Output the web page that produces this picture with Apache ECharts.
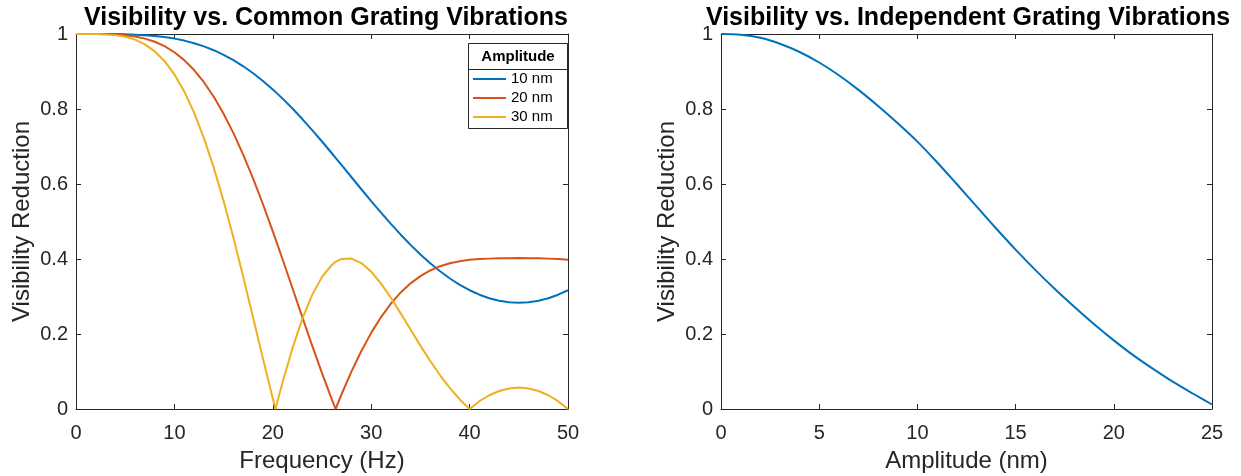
<!DOCTYPE html>
<html><head><meta charset="utf-8">
<script src="https://cdn.jsdelivr.net/npm/echarts@6/dist/echarts.min.js"></script>
<style>html,body{margin:0;padding:0;background:#fff}#c{width:1241px;height:476px}</style>
</head><body><div id="c"></div><script>
// ---- Left chart: visibility vs frequency for three common-vibration amplitudes ----
const freqHz = [0,1,2,3,4,5,6,7,8,9,10,11,12,13,14,15,16,17,18,19,20,20.27,21,22,23,24,25,26,26.38,27,28,29,30,31,32,33,34,35,36,37,38,39,40,41,42,43,44,45,46,47,48,49,50];
const vis10nm = [1,1,1,0.9999,0.9997,0.9992,0.9983,0.9969,0.9948,0.9918,0.9877,0.9824,0.9755,0.9670,0.9568,0.9445,0.9303,0.9139,0.8954,0.8748,0.8522,0.8457,0.8276,0.8012,0.7732,0.7438,0.7133,0.6820,0.6699,0.6501,0.6180,0.5860,0.5544,0.5235,0.4935,0.4648,0.4376,0.4122,0.3887,0.3672,0.3480,0.3312,0.3167,0.3048,0.2955,0.2888,0.2848,0.2834,0.2848,0.2888,0.2955,0.3048,0.3167];
const vis20nm = [1,1,0.9999,0.9996,0.9986,0.9967,0.9933,0.9877,0.9793,0.9675,0.9513,0.9304,0.9039,0.8714,0.8326,0.7873,0.7356,0.6778,0.6144,0.5460,0.4737,0.4536,0.3986,0.3219,0.2451,0.1692,0.0957,0.0257,0,0.0400,0.1004,0.1547,0.2030,0.2451,0.2810,0.3109,0.3351,0.3544,0.3694,0.3808,0.3886,0.3941,0.3977,0.3999,0.4010,0.4018,0.4022,0.4024,0.4022,0.4018,0.4010,0.3999,0.3977];
const vis30nm = [1,1,0.9998,0.9990,0.9970,0.9926,0.9849,0.9724,0.9538,0.9275,0.8922,0.8468,0.7903,0.7225,0.6436,0.5544,0.4564,0.3517,0.2433,0.1343,0.0281,0,0.0718,0.1622,0.2405,0.3043,0.3523,0.3841,0.3923,0.4001,0.4012,0.3892,0.3663,0.3345,0.2966,0.2550,0.2120,0.1690,0.1279,0.0899,0.0555,0.0255,0,0.0208,0.0367,0.0481,0.0549,0.0571,0.0549,0.0481,0.0367,0.0208,0];
const seriesNames = ['10 nm','20 nm','30 nm'];

// ---- Right chart: visibility vs amplitude (independent vibrations) ----
const ampNm = [0,1,2,3,4,5,6,7,8,9,10,11,12,13,14,15,16,17,18,19,20,21,22,23,24,25];
const visIndependent = [1.000,0.998,0.990,0.974,0.952,0.924,0.890,0.851,0.808,0.762,0.713,0.658,0.600,0.541,0.482,0.425,0.371,0.320,0.272,0.226,0.183,0.143,0.107,0.073,0.042,0.012];

// ---- Text ----
const titleLeft = 'Visibility vs. Common Grating Vibrations';
const titleRight = 'Visibility vs. Independent Grating Vibrations';
const xNameLeft = 'Frequency (Hz)';
const xNameRight = 'Amplitude (nm)';
const yName = 'Visibility Reduction';
const legendTitle = 'Amplitude';

const colors = ['#0072BD','#D95319','#EDB120'];
const axisColor = '#262626';
const font = '"Liberation Sans", Arial, Helvetica, sans-serif';

function pairs(xs, ys){ return xs.map((x,i)=>[x,ys[i]]); }

function xAxisDef(grid, max, interval, name, pos){
  const main = pos === 'bottom';
  return {
    type:'value', gridIndex:grid, position:pos, min:0, max:max, interval:interval,
    name: main ? name : '', nameLocation:'middle', nameGap:40,
    nameTextStyle:{fontSize:24,color:axisColor,fontFamily:font},
    axisLine:{show:true,onZero:false,lineStyle:{color:axisColor,width:1}},
    axisTick:{show:true,inside:true,length:5,lineStyle:{color:axisColor}},
    axisLabel:{show:main,fontSize:20,color:axisColor,fontFamily:font,margin:14},
    splitLine:{show:false}
  };
}
function yAxisDef(grid, name, pos){
  const main = pos === 'left';
  return {
    type:'value', gridIndex:grid, position:pos, min:0, max:1, interval:0.2,
    name: main ? name : '', nameLocation:'middle', nameGap:42,
    nameTextStyle:{fontSize:24,color:axisColor,fontFamily:font},
    axisLine:{show:true,onZero:false,lineStyle:{color:axisColor,width:1}},
    axisTick:{show:true,inside:true,length:5,lineStyle:{color:axisColor}},
    axisLabel:{show:main,fontSize:20,color:axisColor,fontFamily:font,margin:8},
    splitLine:{show:false}
  };
}

const lineSeries = [vis10nm, vis20nm, vis30nm].map((v,i)=>({
  type:'line', name:seriesNames[i], xAxisIndex:0, yAxisIndex:0,
  data: pairs(freqHz, v), showSymbol:false, symbol:'none',
  lineStyle:{color:colors[i], width:2}, itemStyle:{color:colors[i]}, animation:false
}));
lineSeries.push({
  type:'line', name:'independent', xAxisIndex:2, yAxisIndex:2,
  data: pairs(ampNm, visIndependent), showSymbol:false, symbol:'none', smooth:0.3,
  lineStyle:{color:colors[0], width:2}, itemStyle:{color:colors[0]}, animation:false
});

const option = {
  animation:false,
  backgroundColor:'#fff',
  title:[
    {text:titleLeft, left:321, top:1, textAlign:'center', textStyle:{fontSize:25,fontWeight:'bold',color:'#000',fontFamily:font}},
    {text:titleRight, left:963, top:1, textAlign:'center', textStyle:{fontSize:25,fontWeight:'bold',color:'#000',fontFamily:font}}
  ],
  grid:[
    {left:76, top:34, width:492, height:375, containLabel:false, outerBoundsMode:'none'},
    {left:721, top:34, width:491, height:375, containLabel:false, outerBoundsMode:'none'}
  ],
  xAxis:[
    xAxisDef(0,50,10,xNameLeft,'bottom'),
    xAxisDef(0,50,10,xNameLeft,'top'),
    xAxisDef(1,25,5,xNameRight,'bottom'),
    xAxisDef(1,25,5,xNameRight,'top')
  ],
  yAxis:[
    yAxisDef(0,yName,'left'),
    yAxisDef(0,yName,'right'),
    yAxisDef(1,yName,'left'),
    yAxisDef(1,yName,'right')
  ],
  legend:{
    data:seriesNames, orient:'vertical', left:473, top:69.5, padding:0, itemGap:0,
    icon:'rect', itemWidth:33, itemHeight:2, selectedMode:false, z:6,
    textStyle:{fontSize:15, lineHeight:19, color:'#000', fontFamily:font}
  },
  graphic:[
    {type:'rect', z:5, shape:{x:468.5,y:43.5,width:99,height:85}, style:{fill:'#fff',stroke:axisColor,lineWidth:1}},
    {type:'line', z:5, shape:{x1:468.5,y1:69.5,x2:567.5,y2:69.5}, style:{stroke:axisColor,lineWidth:1}},
    {type:'text', z:6, x:518, y:57, style:{text:legendTitle, font:'bold 15px "Liberation Sans", Arial, sans-serif', fill:'#000', textAlign:'center', textVerticalAlign:'middle'}}
  ],
  series: lineSeries
};

const chart = echarts.init(document.getElementById('c'), null, {renderer:'canvas'});
chart.setOption(option);
</script></body></html>
